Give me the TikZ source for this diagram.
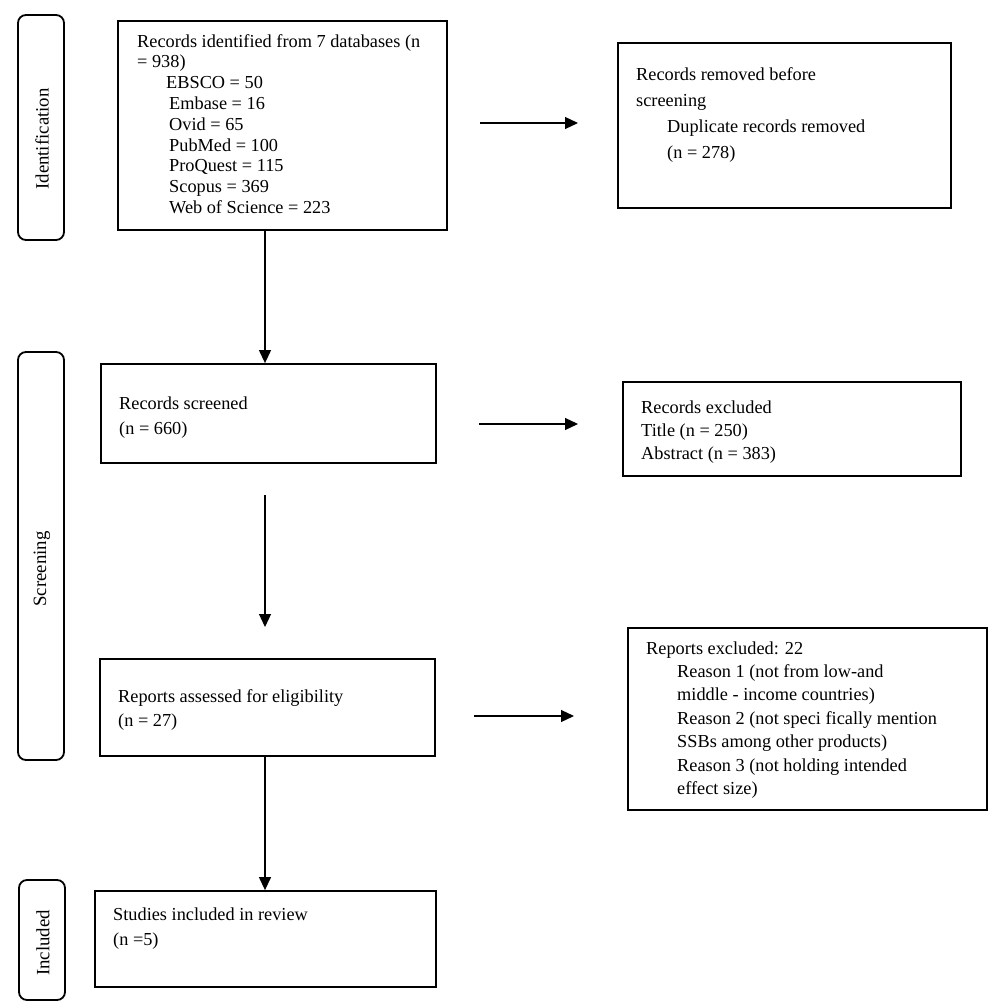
\documentclass[tikz,border=0pt]{standalone}
\usepackage{fontspec}
\setmainfont{Liberation Serif}
\usetikzlibrary{arrows.meta}
\begin{document}
\begin{tikzpicture}[x=1pt,y=-1pt,
  box/.style={draw, line width=1.8pt, inner sep=0pt},
  phase/.style={draw, line width=1.8pt, rounded corners=8pt, inner sep=0pt},
  phasetxt/.style={rotate=90, font=\fontsize{18.8}{22}\selectfont, inner sep=0pt},
  txt/.style={anchor=base west, align=left, inner sep=0pt},
  flow/.style={line width=1.2pt, -{Triangle[length=13pt,width=12pt]}}]
\useasboundingbox (0,0) rectangle (1000,1008);
% phase boxes
\node[phase, minimum width=46pt, minimum height=225pt] (pid) at (41,127.5) {};
\node[phasetxt] (pidt) at (42,139) {Identification};
\node[phase, minimum width=46pt, minimum height=408pt] (psc) at (41,556) {};
\node[phasetxt] (psct) at (42,569) {Screening};
\node[phase, minimum width=46pt, minimum height=120pt] (pin) at (42,940) {};
\node[phasetxt] (pint) at (43,943) {Included};
% main boxes
\node[box, minimum width=329pt, minimum height=209pt] (b1) at (282.5,125.5) {};
\node[box, minimum width=333pt, minimum height=165pt] (b2) at (784.5,125.5) {};
\node[box, minimum width=335pt, minimum height=99pt] (b3) at (268.5,413.5) {};
\node[box, minimum width=338pt, minimum height=94pt] (b4) at (792,429) {};
\node[box, minimum width=335pt, minimum height=97pt] (b5) at (267.5,707.5) {};
\node[box, minimum width=359pt, minimum height=182pt] (b6) at (807.5,719) {};
\node[box, minimum width=341pt, minimum height=96pt] (b7) at (265.5,939) {};
% texts (anchor = baseline of last line)
\node[txt, font=\fontsize{18.3}{20.8}\selectfont] (t1) at (137,213.5) {Records identified from 7 databases (n\\
= 938)\\
\hspace*{29pt}EBSCO = 50\\
\hspace*{32pt}Embase = 16\\
\hspace*{32pt}Ovid = 65\\
\hspace*{32pt}PubMed = 100\\
\hspace*{32pt}ProQuest = 115\\
\hspace*{32pt}Scopus = 369\\
\hspace*{32pt}Web of Science = 223};
\node[txt, font=\fontsize{18.3}{26.3}\selectfont] (t2) at (636,159) {Records removed before\\
screening\\
\hspace*{31pt}Duplicate records removed\\
\hspace*{31pt}(n = 278)};
\node[txt, font=\fontsize{18.3}{25}\selectfont] (t3) at (119,434) {Records screened\\(n = 660)};
\node[txt, font=\fontsize{18.3}{23}\selectfont] (t4) at (641,459) {Records excluded\\Title (n = 250)\\Abstract (n = 383)};
\node[txt, font=\fontsize{18.3}{24}\selectfont] (t5) at (118,726) {Reports assessed for eligibility\\(n = 27)};
\node[txt, font=\fontsize{18.3}{23.4}\selectfont] (t6) at (646,794.5) {Reports excluded: 22\\
\hspace*{31pt}Reason 1 (not from low-and\\
\hspace*{31pt}middle - income countries)\\
\hspace*{31pt}Reason 2 (not speci fically mention\\
\hspace*{31pt}SSBs among other products)\\
\hspace*{31pt}Reason 3 (not holding intended\\
\hspace*{31pt}effect size)};
\node[txt, font=\fontsize{18.3}{25}\selectfont] (t7) at (113,945) {Studies included in review\\(n =5)};
% free arrow ends
\coordinate (a1s) at (480,123); \coordinate (a1e) at (578,123);
\coordinate (a2s) at (479,424); \coordinate (a2e) at (578,424);
\coordinate (a3s) at (474,716); \coordinate (a3e) at (574,716);
\coordinate (v2s) at (265,495); \coordinate (v2e) at (265,627);
% connectors
\draw[flow] (b1.south -| 265,0) -- (b3.north -| 265,0);
\draw[flow] (v2s) -- (v2e);
\draw[flow] (b5.south -| 265,0) -- (b7.north -| 265,0);
\draw[flow] (a1s) -- (a1e);
\draw[flow] (a2s) -- (a2e);
\draw[flow] (a3s) -- (a3e);
\end{tikzpicture}
\end{document}
